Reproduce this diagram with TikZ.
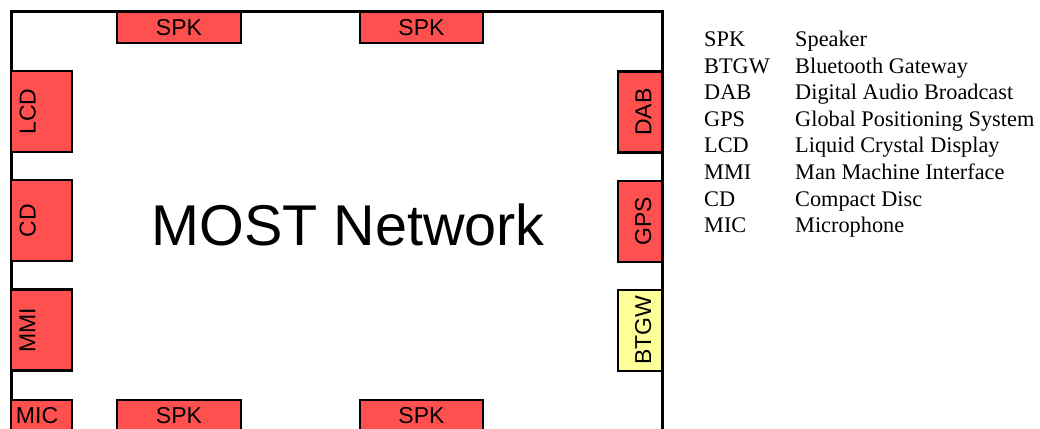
\documentclass[tikz,border=0pt]{standalone}
\usepackage{fontspec}
\setmainfont{Liberation Serif}
\setsansfont{Liberation Sans}
\usetikzlibrary{positioning}

\definecolor{unitred}{RGB}{255,80,80}
\definecolor{unityellow}{RGB}{255,255,153}

\begin{document}
\begin{tikzpicture}[
    x=1pt, y=-1pt,
    unit/.style={rectangle, draw, line width=2.8pt, fill=unitred, inner sep=0pt,
      font=\sffamily\fontsize{23}{27}\selectfont},
    hbox/.style={unit, minimum height=31pt},
    lbox/.style={unit, rotate=90, minimum width=81pt, minimum height=61pt, text depth=28pt},
    rbox/.style={unit, rotate=90, minimum width=81pt, minimum height=44pt, text height=22.5pt},
    legend/.style={anchor=base west, inner sep=0pt, font=\rmfamily\fontsize{22.3}{26}\selectfont}
  ]
    \useasboundingbox (0,0) rectangle (1040,428);

    % network frame, open at the bottom
    \coordinate (fbl) at (11,440);
    \coordinate (ftl) at (11,12);
    \coordinate (ftr) at (662,12);
    \coordinate (fbr) at (662,440);
    \draw[line width=3pt] (fbl) -- (ftl) -- (ftr) -- (fbr);

    \node[font=\sffamily\fontsize{57.5}{66}\selectfont, inner sep=0pt] (most) at (348,225) {MOST Network};

    % speakers
    \node[hbox, minimum width=124pt] (spk1) at (179,27.5) {SPK};
    \node[hbox, minimum width=123pt] (spk2) at (421.5,27.5) {SPK};
    \node[hbox, minimum width=124pt] (spk3) at (179,415.5) {SPK};
    \node[hbox, minimum width=123pt] (spk4) at (421.5,415.5) {SPK};

    % left side units
    \node[lbox] (lcd) at (41.5,111.5) {LCD};
    \node[lbox] (cd) at (41.5,220.5) {CD};
    \node[lbox] (mmi) at (41.5,330) {MMI};
    \node[hbox, minimum width=61pt, text width=51pt, align=left, inner xsep=5pt] (mic) at (41.5,415.5) {MIC};

    % right side units
    \node[rbox] (dab) at (640,112) {DAB};
    \node[rbox] (gps) at (640,221.5) {GPS};
    \node[rbox, fill=unityellow] (btgw) at (640,330.5) {BTGW};

    % legend
    \foreach \abbr/\full [count=\i] in {SPK/Speaker, BTGW/Bluetooth Gateway,
        DAB/Digital Audio Broadcast, GPS/Global Positioning System,
        LCD/Liquid Crystal Display, MMI/Man Machine Interface,
        CD/Compact Disc, MIC/Microphone} {
      \node[legend] (abbr\i) at (704,{46.5+26.6*(\i-1)}) {\abbr};
      \node[legend] (full\i) at (795,{46.5+26.6*(\i-1)}) {\full};
    }
  \end{tikzpicture}
\end{document}
